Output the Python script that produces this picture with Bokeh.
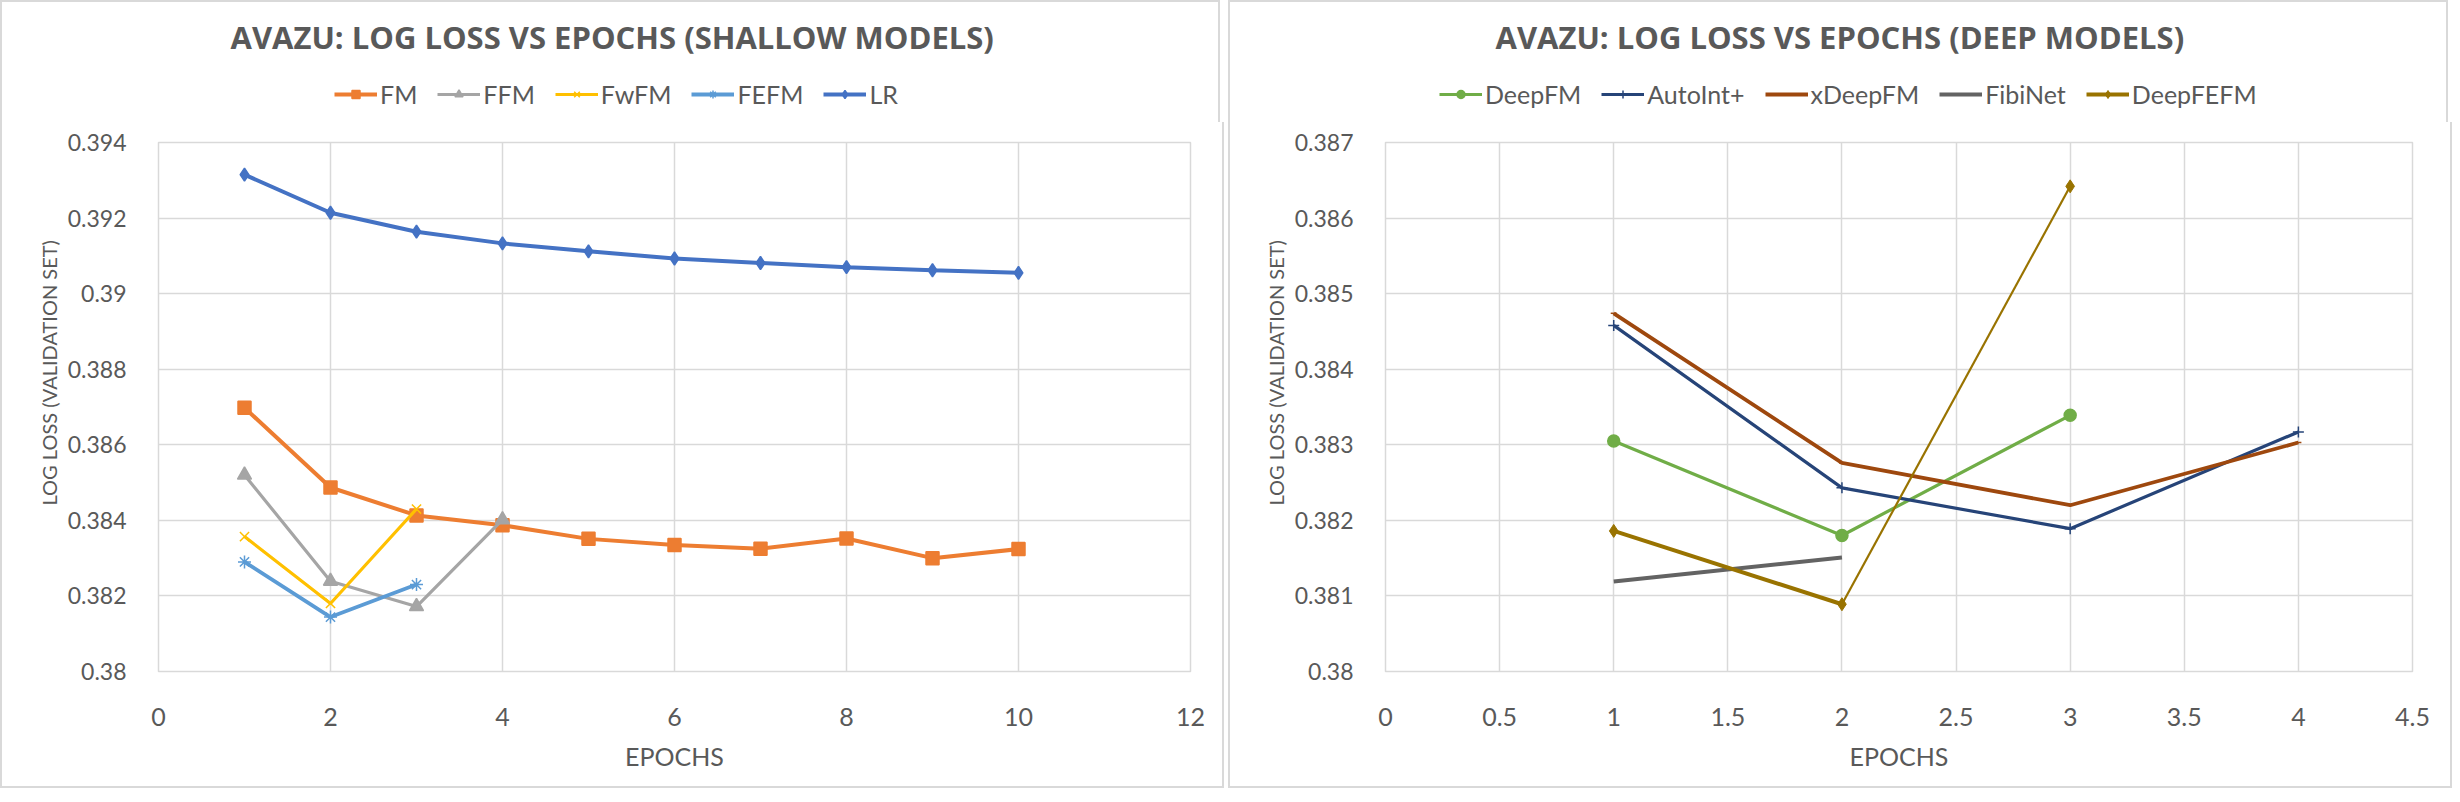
from bokeh.plotting import figure
from bokeh.models import Legend, LegendItem, FixedTicker, Title, Range1d
from bokeh.layouts import row, column
from bokeh.embed import file_html
from bokeh.resources import INLINE

# ---------------- data ----------------
shallow_title = "AVAZU: LOG LOSS VS EPOCHS (SHALLOW MODELS)"
deep_title = "AVAZU: LOG LOSS VS EPOCHS (DEEP MODELS)"
x_label = "EPOCHS"
y_label = "LOG LOSS (VALIDATION SET)"

fm_epochs = [1, 2, 3, 4, 5, 6, 7, 8, 9, 10]
fm_loss = [0.38698, 0.38487, 0.38413, 0.38387, 0.38351, 0.38335, 0.38325, 0.38352, 0.38300, 0.38324]
ffm_epochs = [1, 2, 3, 4]
ffm_loss = [0.38520, 0.38239, 0.38172, 0.38402]
fwfm_epochs = [1, 2, 3]
fwfm_loss = [0.38357, 0.38180, 0.38430]
fefm_epochs = [1, 2, 3]
fefm_loss = [0.38290, 0.38144, 0.38230]
lr_epochs = [1, 2, 3, 4, 5, 6, 7, 8, 9, 10]
lr_loss = [0.39315, 0.39214, 0.39164, 0.39133, 0.39112, 0.39093, 0.39081, 0.39070, 0.39062, 0.39055]

deepfm_epochs = [1, 2, 3]
deepfm_loss = [0.38305, 0.38180, 0.38339]
autoint_epochs = [1, 2, 3, 4]
autoint_loss = [0.38458, 0.38243, 0.38189, 0.38317]
xdeepfm_epochs = [1, 2, 3, 4]
xdeepfm_loss = [0.38474, 0.38276, 0.38220, 0.38303]
fibinet_epochs = [1, 2]
fibinet_loss = [0.38119, 0.38151]
deepfefm_epochs = [1, 2, 3]
deepfefm_loss = [0.38186, 0.38089, 0.38642]

left_xticks = [0, 2, 4, 6, 8, 10, 12]
left_xlabels = ["0", "2", "4", "6", "8", "10", "12"]
left_yticks = [0.380, 0.382, 0.384, 0.386, 0.388, 0.390, 0.392, 0.394]
left_ylabels = ["0.38", "0.382", "0.384", "0.386", "0.388", "0.39", "0.392", "0.394"]
right_xticks = [0, 0.5, 1, 1.5, 2, 2.5, 3, 3.5, 4, 4.5]
right_xlabels = ["0", "0.5", "1", "1.5", "2", "2.5", "3", "3.5", "4", "4.5"]
right_yticks = [0.380, 0.381, 0.382, 0.383, 0.384, 0.385, 0.386, 0.387]
right_ylabels = ["0.38", "0.381", "0.382", "0.383", "0.384", "0.385", "0.386", "0.387"]

# ---------------- style ----------------
TXT = "#595959"
GRID = "#d9d9d9"
FONT = "Lato"
TFONT = "Open Sans"
PANEL_W = 1220
HEAD_H = 122
HEAD_TOP = 56
FRAME_H = 527
MAIN_TOP = 20
BORDER = "2px solid #d9d9d9"


def make_header(title, title_offset):
    h = figure(width=PANEL_W, height=HEAD_H, output_backend="svg", toolbar_location=None,
               x_range=Range1d(-20, -19), y_range=Range1d(-20, -19),
               x_axis_location=None, y_axis_location=None,
               min_border_left=0, min_border_right=0, min_border_bottom=0,
               min_border_top=HEAD_TOP)
    h.grid.visible = False
    h.outline_line_color = None
    h.add_layout(Title(text=title, align="left", offset=title_offset, text_font=TFONT,
                       text_font_size="31px", text_font_style="bold", text_color=TXT,
                       standoff=2), "above")
    h.styles = {"border-top": BORDER, "border-left": BORDER, "border-right": BORDER,
                "box-sizing": "border-box"}
    return h


def make_fig(xticks, xlabels, yticks, ylabels, left_border, right_border):
    p = figure(frame_width=PANEL_W - left_border - right_border, frame_height=FRAME_H,
               output_backend="svg", toolbar_location=None,
               x_range=Range1d(xticks[0], xticks[-1]), y_range=Range1d(yticks[0], yticks[-1]),
               min_border_left=left_border, min_border_right=right_border, min_border_bottom=117,
               min_border_top=MAIN_TOP)
    p.outline_line_color = GRID
    p.outline_line_width = 1.5
    for g in (p.xgrid[0], p.ygrid[0]):
        g.grid_line_color = GRID
        g.grid_line_width = 1.5
    p.xaxis.ticker = FixedTicker(ticks=xticks)
    p.yaxis.ticker = FixedTicker(ticks=yticks)
    p.xgrid.ticker = FixedTicker(ticks=xticks)
    p.ygrid.ticker = FixedTicker(ticks=yticks)
    p.xaxis.major_label_overrides = {t: l for t, l in zip(xticks, xlabels)}
    p.yaxis.major_label_overrides = {t: l for t, l in zip(yticks, ylabels)}
    for ax in (p.xaxis[0], p.yaxis[0]):
        ax.axis_line_color = None
        ax.major_tick_line_color = None
        ax.minor_tick_line_color = None
        ax.major_label_text_color = TXT
        ax.major_label_text_font = FONT
        ax.axis_label_text_color = TXT
        ax.axis_label_text_font = FONT
        ax.axis_label_text_font_style = "normal"
    p.xaxis.major_label_text_font_size = "25px"
    p.yaxis.major_label_text_font_size = "23px"
    p.xaxis.major_label_standoff = 30
    p.yaxis.major_label_standoff = 26
    p.xaxis.axis_label = x_label
    p.xaxis.axis_label_text_font_size = "25px"
    p.xaxis.axis_label_standoff = 12
    p.add_layout(Title(text=y_label, align="left", offset=166, text_font=FONT,
                       text_font_size="20px", text_font_style="normal", text_color=TXT,
                       standoff=8), "left")
    p.styles = {"border-bottom": BORDER, "border-left": BORDER, "border-right": BORDER,
                "box-sizing": "border-box"}
    return p


def add_legend(h, items, x0):
    leg = Legend(items=items, orientation="horizontal", location=(x0, 15))
    leg.label_text_font = FONT
    leg.label_text_font_size = "25px"
    leg.label_text_color = TXT
    leg.glyph_width = 43
    leg.glyph_height = 20
    leg.label_standoff = 3
    leg.spacing = 20
    leg.border_line_color = None
    leg.background_fill_alpha = 0
    leg.margin = 0
    leg.padding = 0
    h.add_layout(leg, "center")


def draw(p, h, name, xs, ys, col, lw, mk, ms):
    # real chart in p; a clipped twin in the header h feeds the legend
    p.line(xs, ys, line_color=col, line_width=lw)
    rl = h.line(xs, ys, line_color=col, line_width=lw)
    rs = []
    if mk is not None:
        p.scatter(xs, ys, marker=mk, size=ms, fill_color=col, line_color=col, line_width=1.5)
        rs = [h.scatter(xs, ys, marker=mk, size=ms, fill_color=col, line_color=col, line_width=1.5)]
    return LegendItem(label=name, renderers=[rl] + rs)


# ---------------- left chart ----------------
h1 = make_header(shallow_title, 72)
p1 = make_fig(left_xticks, left_xlabels, left_yticks, left_ylabels, 156, 36)
series1 = [
    ("FM", fm_epochs, fm_loss, "#ED7D31", 4.0, "square", 13),
    ("FFM", ffm_epochs, ffm_loss, "#A5A5A5", 3.2, "triangle", 14),
    ("FwFM", fwfm_epochs, fwfm_loss, "#FFC000", 3.2, "x", 13),
    ("FEFM", fefm_epochs, fefm_loss, "#5B9BD5", 3.8, "asterisk", 13),
    ("LR", lr_epochs, lr_loss, "#4472C4", 4.0, "diamond", 13),
]
items1 = [draw(p1, h1, *s) for s in series1]
add_legend(h1, items1, 176)

# ---------------- right chart ----------------
h2 = make_header(deep_title, 110)
p2 = make_fig(right_xticks, right_xlabels, right_yticks, right_ylabels, 155, 42)
series2 = [
    ("DeepFM", deepfm_epochs, deepfm_loss, "#70AD47", 3.2, "circle", 12),
    ("AutoInt+", autoint_epochs, autoint_loss, "#264478", 3.2, "cross", 11),
    ("xDeepFM", xdeepfm_epochs, xdeepfm_loss, "#9E480E", 3.8, "dash", 6),
    ("FibiNet", fibinet_epochs, fibinet_loss, "#636363", 4.0, None, 0),
]
items2 = [draw(p2, h2, *s) for s in series2]
p2.line(deepfefm_epochs[:2], deepfefm_loss[:2], line_color="#997300", line_width=4)
p2.line(deepfefm_epochs[1:], deepfefm_loss[1:], line_color="#997300", line_width=2.2)
p2.scatter(deepfefm_epochs, deepfefm_loss, marker="diamond", size=13,
           fill_color="#997300", line_color="#997300")
hl = h2.line(deepfefm_epochs, deepfefm_loss, line_color="#997300", line_width=4)
hs = h2.scatter(deepfefm_epochs, deepfefm_loss, marker="diamond", size=13,
                fill_color="#997300", line_color="#997300")
items2.append(LegendItem(label="DeepFEFM", renderers=[hl, hs]))
add_legend(h2, items2, 54)

layout = row(column(h1, p1, spacing=0), column(h2, p2, spacing=0), spacing=4)
open("out.html", "w").write(file_html(layout, INLINE))
